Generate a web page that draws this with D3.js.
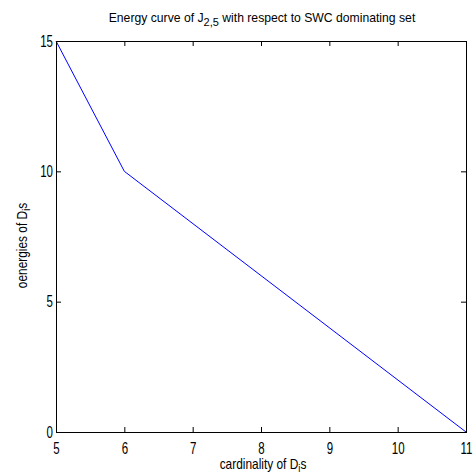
<!DOCTYPE html>
<html>
<head>
<meta charset="utf-8">
<script src="https://cdn.jsdelivr.net/npm/d3@7"></script>
<style>
  body { margin: 0; background: #fff; }
  text { font-family: "Liberation Sans", Arial, sans-serif; fill: #000; }
</style>
</head>
<body>
<div id="chart"></div>
<script>
// data
var cardinality = [5, 6, 11];
var energies = [15, 10, 0];
var xTicks = [5, 6, 7, 8, 9, 10, 11];
var yTicks = [0, 5, 10, 15];

var width = 473, height = 473;
var margin = { left: 56, right: 7, top: 41, bottom: 41 };
var w = width - margin.left - margin.right;
var h = height - margin.top - margin.bottom;

var svg = d3.select("#chart").append("svg")
  .attr("width", width)
  .attr("height", height);

var xScale = d3.scaleLinear().domain([5, 11]).range([0, w]);
var yScale = d3.scaleLinear().domain([0, 15]).range([h, 0]);

var g = svg.append("g")
  .attr("transform", "translate(" + margin.left + "," + margin.top + ")");

// line
var line = d3.line()
  .x(function (d, i) { return xScale(cardinality[i]); })
  .y(function (d) { return yScale(d); });

g.append("path")
  .datum(energies)
  .attr("fill", "none")
  .attr("stroke", "#0000ff")
  .attr("stroke-width", 1)
  .attr("d", line);

// axes (matlab style, ticks inward on all sides)
var tickLen = 5;
var narrow = 0.72; // squeeze the tick labels, matlab font is narrow
function styleAxis(sel) {
  sel.select(".domain").remove();
  sel.selectAll("line").attr("stroke", "#000");
  sel.selectAll("text").attr("font-size", "16px");
}

g.append("g")
  .attr("transform", "translate(0," + h + ")")
  .call(d3.axisBottom(xScale).tickValues(xTicks).tickSize(-tickLen).tickPadding(11).tickFormat(d3.format("d")))
  .call(styleAxis)
  .selectAll("text").attr("transform", "scale(" + narrow + ",1)");

var yAxis = g.append("g")
  .call(d3.axisLeft(yScale).tickValues(yTicks).tickSize(-tickLen).tickPadding(3).tickFormat(d3.format("d")))
  .call(styleAxis);
yAxis.selectAll("text")
  .attr("x", -3 / narrow)
  .attr("transform", "scale(" + narrow + ",1)");

g.append("g")
  .call(d3.axisTop(xScale).tickValues(xTicks).tickSize(-tickLen).tickFormat(""))
  .call(styleAxis);

g.append("g")
  .attr("transform", "translate(" + w + ",0)")
  .call(d3.axisRight(yScale).tickValues(yTicks).tickSize(-tickLen).tickFormat(""))
  .call(styleAxis);

g.append("rect")
  .attr("x", 0.5).attr("y", 0.5)
  .attr("width", w).attr("height", h)
  .attr("fill", "none")
  .attr("stroke", "#000")
  .attr("stroke-width", 1);

// title
var title = svg.append("text")
  .attr("x", margin.left + w / 2 + 1)
  .attr("y", 22)
  .attr("text-anchor", "middle")
  .attr("font-size", "12.2px");
title.append("tspan").text("Energy curve of J");
title.append("tspan").attr("dy", 4).attr("font-size", "11px").text("2,5");
title.append("tspan").attr("dy", -4).text(" with respect to SWC dominating set");

// x label
var xl = svg.append("text")
  .attr("x", margin.left + w / 2 + 2)
  .attr("y", 469)
  .attr("text-anchor", "middle")
  .attr("font-size", "14px")
  .attr("transform", "translate(" + (margin.left + w / 2 + 2) + ",0) scale(0.85,1) translate(" + -(margin.left + w / 2 + 2) + ",0)");
xl.append("tspan").text("cardinality of D");
xl.append("tspan").attr("dy", 3).attr("font-size", "11px").text("i");
xl.append("tspan").attr("dy", -3).text("s");

// y label
var yl = svg.append("text")
  .attr("transform", "translate(27," + (margin.top + h / 2 + 9) + ") rotate(-90) scale(0.85,1)")
  .attr("text-anchor", "middle")
  .attr("font-size", "14px");
yl.append("tspan").text("oenergies of D");
yl.append("tspan").attr("dy", 3).attr("font-size", "11px").text("i");
yl.append("tspan").attr("dy", -3).text("s");
</script>
</body>
</html>
